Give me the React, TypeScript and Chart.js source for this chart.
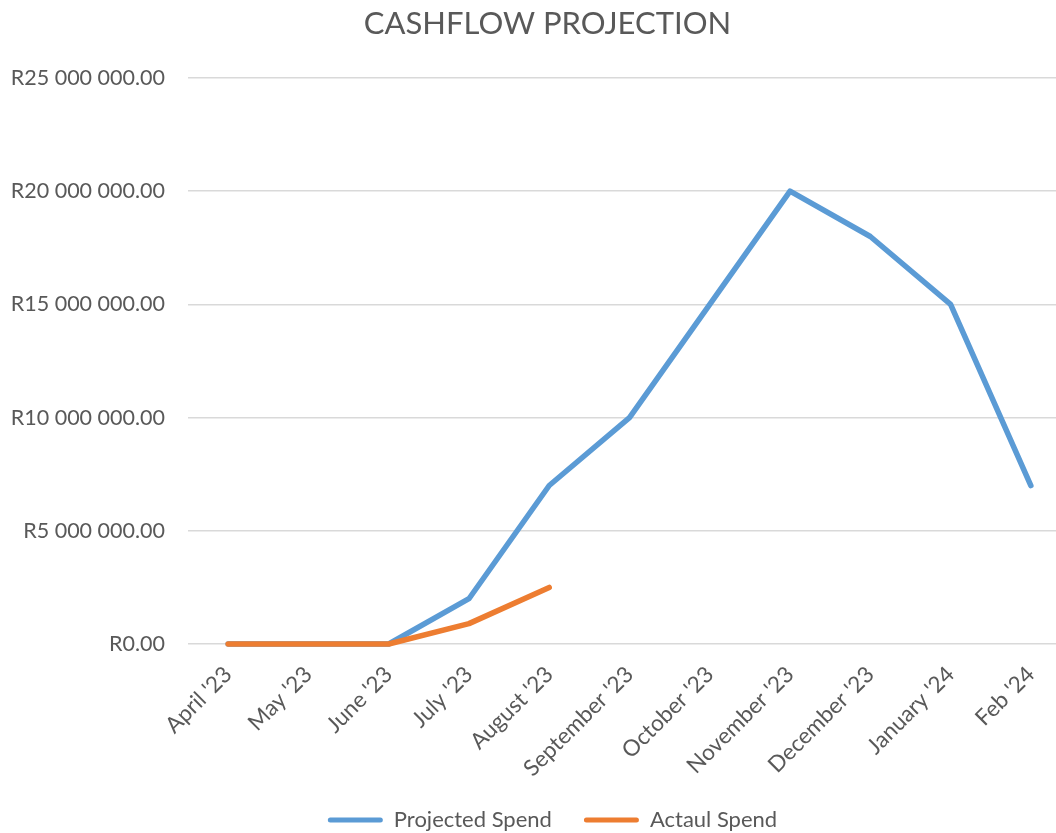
import React, { useEffect, useRef } from "react";
import { Chart, registerables } from "chart.js";

Chart.register(...registerables);

const categories = [
  "April '23",
  "May '23",
  "June '23",
  "July '23",
  "August '23",
  "September '23",
  "October '23",
  "November '23",
  "December '23",
  "January '24",
  "Feb '24",
];

const projectedSpend = [0, 0, 0, 2000000, 7000000, 10000000, 15000000, 20000000, 18000000, 15000000, 7000000];
const actualSpend = [0, 0, 0, 900000, 2500000];

const seriesNames = ["Projected Spend", "Actaul Spend"];
const seriesColors = ["#5B9BD5", "#ED7D31"];

const yMin = 0;
const yMax = 25000000;
const yStep = 5000000;

const FONT = "Lato, 'Open Sans', sans-serif";
const TEXT = "#595959";

function formatRand(v: number): string {
  const fixed = Math.abs(v).toFixed(2);
  const [intPart, dec] = fixed.split(".");
  const grouped = intPart.replace(/\B(?=(\d{3})+(?!\d))/g, " ");
  return "R" + grouped + "." + dec;
}

const shiftBlocks = {
  id: "shiftBlocks",
  afterLayout(chart: any) {
    const t = chart.titleBlock;
    if (t) t.left += 24;
    const l = chart.legend;
    if (l) l.left += 34;
  },
};

export default function App() {
  const ref = useRef<HTMLCanvasElement | null>(null);

  useEffect(() => {
    if (!ref.current) return;
    const chart = new Chart(ref.current, {
      type: "line",
      data: {
        labels: categories,
        datasets: [
          {
            label: seriesNames[0],
            data: projectedSpend,
            borderColor: seriesColors[0],
            backgroundColor: seriesColors[0],
            borderWidth: 5.5,
            pointRadius: 0,
            tension: 0,
            borderCapStyle: "round",
            borderJoinStyle: "round",
            clip: false,
            order: 1,
          },
          {
            label: seriesNames[1],
            data: actualSpend,
            borderColor: seriesColors[1],
            backgroundColor: seriesColors[1],
            borderWidth: 5.5,
            pointRadius: 0,
            tension: 0,
            borderCapStyle: "round",
            borderJoinStyle: "round",
            clip: false,
            order: 0,
          },
        ],
      },
      plugins: [shiftBlocks],
      options: {
        responsive: false,
        animation: false,
        devicePixelRatio: 1,
        layout: { padding: { left: 0, right: 29, top: 0, bottom: 0 } },
        plugins: {
          title: {
            display: true,
            text: "CASHFLOW PROJECTION",
            color: TEXT,
            font: { family: FONT, size: 31, weight: "normal" },
            padding: { top: 5, bottom: 35.8 },
          },
          legend: {
            position: "bottom",
            labels: {
              color: TEXT,
              font: { family: FONT, size: 22 },
              boxWidth: 55,
              boxHeight: 5,
              padding: 32,
              useBorderRadius: true,
              borderRadius: 2.5,
              generateLabels: (c: any) =>
                c.data.datasets.map((d: any, i: number) => ({
                  text: d.label,
                  fillStyle: d.borderColor,
                  strokeStyle: d.borderColor,
                  lineWidth: 0,
                  hidden: false,
                  datasetIndex: i,
                  borderRadius: 2.5,
                  fontColor: TEXT,
                })),
            },
          },
          tooltip: { enabled: false },
        },
        scales: {
          x: {
            offset: true,
            grid: { display: false, drawTicks: false },
            border: { display: false },
            ticks: {
              autoSkip: false,
              maxRotation: 45,
              minRotation: 45,
              color: TEXT,
              padding: 17,
              font: { family: FONT, size: 22.5 },
            },
            afterFit: (scale: any) => {
              scale.height = 133;
            },
          },
          y: {
            min: yMin,
            max: yMax,
            grid: { color: "#D9D9D9", lineWidth: 1.5, drawTicks: false },
            border: { display: false },
            ticks: {
              stepSize: yStep,
              color: TEXT,
              padding: 23,
              font: { family: FONT, size: 21.5 },
              callback: (v: any) => formatRand(Number(v)),
            },
            afterFit: (scale: any) => {
              scale.width = 188;
            },
          },
        },
      },
    });
    return () => chart.destroy();
  }, []);

  return (
    <div
      style={{
        position: "absolute",
        left: 0,
        top: 0,
        width: 1056,
        height: 833,
        overflow: "hidden",
        background: "#fff",
      }}
    >
      <canvas ref={ref} width={1100} height={841} style={{ display: "block" }} />
    </div>
  );
}
